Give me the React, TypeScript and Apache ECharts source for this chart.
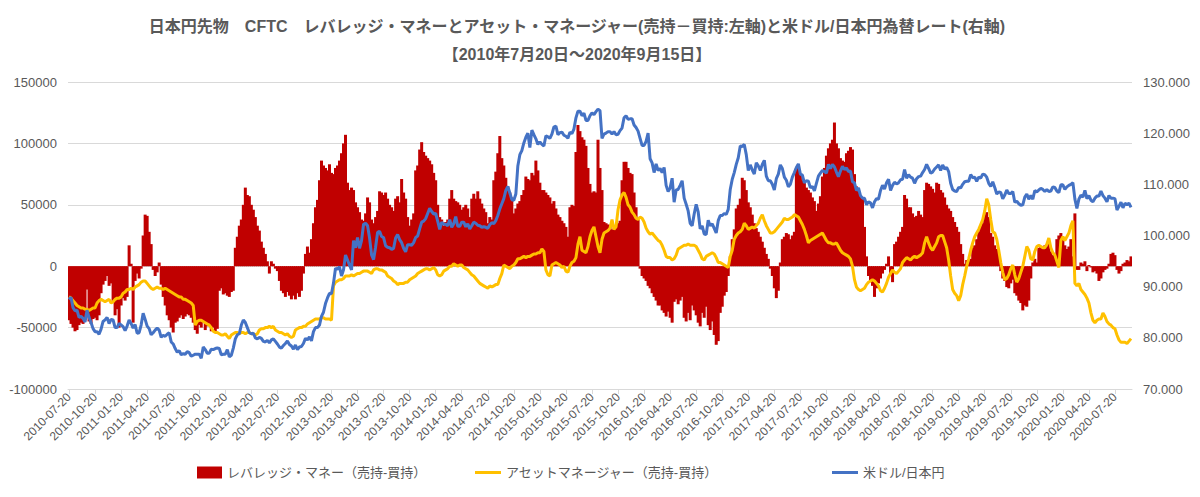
import React, { useEffect, useRef } from "react";
import * as echarts from "echarts";

// Weekly CFTC report dates start (Tuesdays)
const startDate = "2010-07-20";
const weekCount = 531;

const tickLabels = [
  "2010-07-20","2010-10-20","2011-01-20","2011-04-20","2011-07-20","2011-10-20",
  "2012-01-20","2012-04-20","2012-07-20","2012-10-20","2013-01-20","2013-04-20",
  "2013-07-20","2013-10-20","2014-01-20","2014-04-20","2014-07-20","2014-10-20",
  "2015-01-20","2015-04-20","2015-07-20","2015-10-20","2016-01-20","2016-04-20",
  "2016-07-20","2016-10-20","2017-01-20","2017-04-20","2017-07-20","2017-10-20",
  "2018-01-20","2018-04-20","2018-07-20","2018-10-20","2019-01-20","2019-04-20",
  "2019-07-20","2019-10-20","2020-01-20","2020-04-20","2020-07-20"
];

const leftTicks = [-100000, -50000, 0, 50000, 100000, 150000];
const rightTicks = [70, 80, 90, 100, 110, 120, 130];

// レバレッジ・マネー（売持-買持）
const levMoney = [
-44000,-47000,-50000,-53000,-52000,-48000,-46000,-47000,-44000,-19000,
-45000,-47000,-43000,-42000,-44000,-40000,-22000,-15000,-12000,-8000,
-16000,-14000,-30000,-40000,-35000,-50000,-32000,-26000,-28000,-25000,
17000,2000,-46000,-12000,-6000,-10000,-2000,25000,42000,41000,
28000,18000,-3000,-8000,-5000,3000,-15000,-25000,-32000,-40000,
-44000,-50000,-54000,-46000,-45000,-42000,-40000,-43000,-41000,-39000,
-40000,-42000,-46000,-52000,-55000,-48000,-50000,-46000,-52000,-49000,
-47000,-53000,-50000,-54000,-51000,-20000,-18000,-23000,-22000,-24000,
-25000,-21000,-20000,15000,24000,33000,38000,50000,64000,58000,
57000,50000,46000,40000,33000,29000,20000,15000,10000,4000,
-6000,4000,2000,-2000,-4000,-12000,-20000,-22000,-25000,-21000,
-24000,-27000,-24000,-27000,-22000,-25000,-20000,-6000,10000,16000,
11000,22000,35000,48000,54000,70000,86000,82000,80000,78000,
83000,76000,75000,80000,82000,86000,92000,100000,107000,68000,
62000,64000,62000,52000,48000,44000,38000,37000,43000,56000,
52000,38000,35000,40000,45000,61000,60000,58000,60000,55000,
50000,48000,45000,55000,57000,52000,71000,60000,55000,40000,
33000,38000,43000,78000,82000,95000,101000,93000,90000,88000,
86000,83000,76000,70000,50000,40000,38000,33000,36000,38000,
55000,62000,55000,53000,52000,50000,46000,48000,50000,47000,
40000,55000,59000,55000,61000,55000,51000,47000,44000,35000,
40000,38000,70000,77000,92000,106000,88000,82000,72000,65000,
60000,56000,43000,47000,51000,53000,58000,62000,73000,71000,
70000,76000,74000,86000,78000,68000,62000,62000,60000,58000,
56000,51000,53000,47000,42000,40000,37000,35000,32000,24000,
48000,50000,49000,93000,115000,110000,105000,103000,98000,80000,
67000,60000,61000,60000,103000,80000,62000,36000,35000,34000,
33000,30000,31000,33000,35000,37000,70000,85000,85000,80000,
76000,75000,60000,48000,38000,-2000,-8000,-10000,-12000,-16000,
-18000,-22000,-25000,-28000,-32000,-32000,-36000,-38000,-41000,-37000,
-42000,-46000,-29000,-27000,-31000,-28000,-25000,-42000,-45000,-38000,
-44000,-32000,-36000,-40000,-46000,-49000,-38000,-42000,-33000,-48000,
-52000,-45000,-56000,-64000,-61000,-38000,-33000,-24000,-21000,-8000,
8000,22000,30000,47000,50000,55000,72000,70000,62000,52000,
48000,42000,35000,31000,28000,24000,20000,15000,10000,6000,
-2000,-8000,-18000,-26000,-20000,3000,22000,24000,27000,26000,
22000,25000,28000,80000,83000,75000,70000,68000,64000,62000,
60000,56000,53000,45000,51000,57000,73000,80000,90000,96000,
100000,103000,117000,100000,96000,88000,86000,85000,92000,94000,
97000,95000,75000,65000,62000,57000,55000,32000,8000,-8000,
-12000,-16000,-25000,-18000,-14000,-10000,-6000,-3000,2000,8000,
-8000,-13000,18000,20000,24000,28000,32000,58000,55000,48000,
48000,43000,40000,41000,45000,42000,40000,62000,68000,67000,
65000,63000,60000,68000,67000,62000,60000,56000,50000,47000,
45000,40000,36000,32000,28000,18000,10000,2000,5000,4000,
6000,15000,17000,22000,28000,33000,35000,42000,44000,40000,
27000,24000,17000,14000,10000,-4000,-10000,-12000,-17000,-18000,
-14000,-11000,-22000,-24000,-28000,-30000,-36000,-32000,-33000,-28000,
-10000,3000,6000,3000,15000,16000,14000,17000,16000,19000,
12000,9000,8000,22000,25000,27000,24000,17000,14000,16000,
22000,8000,43000,-3000,-3000,3000,2000,4000,-4000,1000,
-1000,-5000,-4000,-6000,-12000,-10000,-5000,-3000,-2000,2000,
10000,11000,9000,-3000,-6000,-4000,2000,3000,5000,4000,
8000
];

// アセットマネージャー（売持-買持）
const assetMgr = [
-25000,-26000,-28000,-30000,-32000,-33000,-34000,-34000,-35000,-35000,
-36000,-35000,-34000,-34000,-30000,-28000,-27000,-28000,-29000,-28000,
-27000,-30000,-29000,-27000,-26000,-26000,-25000,-22000,-21000,-19000,
-19000,-18000,-19000,-17000,-16000,-15000,-13000,-12000,-12000,-14000,
-16000,-18000,-19000,-18000,-17000,-18000,-18000,-19000,-18000,-19000,
-20000,-21000,-22000,-23000,-24000,-25000,-25000,-27000,-27000,-28000,
-29000,-30000,-32000,-48000,-45000,-44000,-44000,-45000,-46000,-47000,
-48000,-50000,-53000,-54000,-54000,-55000,-56000,-56000,-55000,-57000,
-59000,-56000,-55000,-54000,-54000,-55000,-54000,-54000,-55000,-54000,
-54000,-55000,-55000,-56000,-55000,-52000,-51000,-51000,-50000,-50000,
-49000,-50000,-49000,-52000,-53000,-54000,-54000,-55000,-56000,-55000,
-57000,-58000,-57000,-52000,-51000,-50000,-50000,-49000,-49000,-47000,
-46000,-45000,-44000,-43000,-43000,-43000,-42000,-42000,-43000,-43000,
-43000,-44000,-16000,-13000,-12000,-11000,-11000,-10000,-8000,-8000,
-8000,-7000,-8000,-7000,-6000,-6000,-5000,-4000,-4000,-4000,
-5000,-6000,-3000,-2000,-2000,-3000,-3000,-4000,-5000,-8000,
-9000,-10000,-12000,-13000,-15000,-14000,-14000,-14000,-13000,-13000,
-11000,-10000,-9000,-8000,-6000,-5000,-4000,-3000,-2000,-2000,
-3000,-2000,-1000,-3000,-7000,-8000,-7000,-4000,-3000,-2000,
0,0,2000,1000,0,1000,1000,-1000,-2000,-3000,
-5000,-7000,-8000,-10000,-12000,-14000,-15000,-16000,-17000,-18000,
-16000,-17000,-16000,-15000,-15000,-10000,-6000,1000,0,-1000,
-2000,0,1000,3000,6000,6000,7000,8000,7000,8000,
8000,9000,10000,10000,11000,11000,14000,12000,-3000,-7000,
-8000,1000,2000,3000,2000,1000,-1000,0,-4000,-5000,
0,3000,4000,7000,18000,24000,13000,12000,11000,16000,
24000,29000,32000,24000,16000,11000,22000,27000,28000,29000,
31000,38000,30000,32000,46000,54000,58000,60000,56000,50000,
48000,44000,42000,39000,38000,40000,39000,36000,31000,28000,
26000,27000,25000,23000,21000,20000,17000,13000,8000,7000,
7000,5000,6000,9000,14000,15000,16000,17000,17000,18000,
17000,17000,17000,16000,13000,10000,6000,5000,8000,9000,
10000,11000,10000,7000,3000,3000,2000,1000,0,-1000,
8000,13000,22000,25000,27000,28000,30000,35000,33000,30000,
31000,32000,31000,33000,35000,39000,42000,37000,33000,30000,
27000,27000,28000,30000,32000,34000,36000,39000,38000,38000,
39000,40000,42000,41000,40000,37000,34000,30000,25000,19000,
21000,22000,23000,24000,25000,26000,27000,24000,21000,19000,
19000,18000,18000,19000,16000,13000,11000,10000,9000,8000,
6000,0,-11000,-17000,-19000,-20000,-19000,-18000,-15000,-13000,
-12000,-11000,-12000,-14000,-16000,-20000,-21000,-18000,-14000,-9000,
-6000,-3000,-5000,-6000,-4000,-2000,3000,5000,7000,6000,
5000,7000,8000,7000,8000,9000,11000,19000,24000,19000,
15000,13000,16000,19000,24000,25000,25000,20000,15000,5000,
-8000,-19000,-22000,-24000,-28000,-24000,-15000,-8000,0,6000,
13000,19000,24000,27000,30000,34000,38000,45000,55000,50000,
38000,28000,27000,22000,13000,3000,-5000,-11000,-10000,-7000,
-2000,1000,-7000,-13000,-10000,-5000,0,8000,16000,13000,
6000,5000,12000,16000,17000,16000,15000,15000,18000,23000,
15000,11000,9000,4000,-1000,21000,24000,21000,24000,27000,
33000,37000,-14000,-16000,-14000,-19000,-21000,-23000,-26000,-30000,
-38000,-44000,-46000,-44000,-43000,-43000,-38000,-41000,-45000,-47000,
-48000,-50000,-51000,-56000,-60000,-62000,-62000,-62000,-63000,-61000,
-59000
];

// 米ドル/日本円
const usdJpy = [
87.5,87.9,85.9,85.3,85.4,84.0,84.2,83.8,83.1,85.4,
84.0,83.0,81.8,81.2,81.2,80.7,81.7,83.2,83.5,84.0,
82.8,83.6,83.5,82.0,82.0,82.8,82.5,82.2,81.4,82.3,
83.5,82.8,81.9,82.6,80.9,81.0,82.5,84.8,83.6,82.3,
81.8,80.6,81.0,81.5,81.9,81.5,80.1,80.5,80.3,80.7,
81.0,79.2,78.8,77.9,77.2,77.5,76.7,76.9,76.8,77.3,
77.1,76.4,76.6,76.8,76.8,76.8,76.0,78.2,77.7,77.0,
77.0,77.8,77.7,77.9,78.0,77.9,76.7,76.8,76.8,77.7,
76.3,76.6,78.0,79.8,80.6,80.8,82.5,83.5,83.0,82.0,
81.0,80.8,80.9,80.0,79.8,80.1,79.9,79.3,79.2,79.5,
79.0,79.6,79.8,79.3,78.8,78.2,78.0,78.5,78.9,79.4,
78.7,78.4,77.8,78.6,77.7,78.2,78.3,78.9,79.9,79.6,
80.2,79.4,81.2,82.0,82.0,82.5,84.2,85.0,86.7,87.8,
88.7,88.6,90.7,93.6,93.4,93.9,92.1,93.3,96.2,95.2,
94.2,93.3,99.0,97.6,99.6,97.5,99.0,102.2,102.4,101.9,
99.5,96.2,95.3,97.7,100.6,100.8,99.8,99.6,98.0,97.7,
97.6,97.3,97.5,99.5,100.2,99.2,98.6,97.5,96.8,98.2,
98.2,98.1,98.6,99.6,99.9,101.3,102.6,102.8,103.3,104.3,
105.3,104.7,104.2,104.3,102.8,101.2,102.6,102.2,102.2,101.9,
103.1,101.6,102.3,103.7,101.8,101.8,102.6,102.6,101.7,102.3,
101.3,101.9,102.6,102.4,102.0,101.9,101.6,101.7,101.6,101.4,
102.1,102.5,102.3,102.9,103.9,105.2,106.2,107.2,108.8,109.6,
108.3,107.0,106.9,108.1,113.6,115.8,116.6,118.1,119.2,120.0,
117.2,120.6,119.7,118.9,117.8,118.3,117.8,117.5,119.5,119.3,
119.0,119.8,121.2,121.4,119.7,120.1,120.2,119.6,119.4,119.0,
120.2,119.9,120.8,123.0,124.3,124.3,123.4,123.9,122.5,122.5,
123.4,124.0,123.6,124.2,124.7,124.4,119.0,119.8,120.0,120.3,
120.3,119.8,120.3,119.7,119.8,120.5,121.0,123.0,123.4,122.7,
122.8,122.8,121.6,121.1,120.4,119.0,117.6,117.6,118.4,120.0,
115.0,114.2,112.3,114.0,112.7,113.1,112.3,113.3,109.8,108.6,
109.3,111.2,106.5,108.9,109.0,109.8,110.7,107.3,106.1,104.8,
102.4,101.9,104.2,106.1,104.6,101.3,101.9,100.3,100.2,103.0,
101.9,102.3,101.4,100.5,102.9,103.9,103.9,104.3,104.1,105.1,
109.0,111.0,112.3,113.9,115.2,117.5,117.4,117.8,115.8,112.7,
113.8,112.8,112.0,114.2,113.6,112.7,113.9,114.7,111.6,110.7,
110.7,110.0,108.9,111.1,112.0,113.8,113.1,111.4,110.8,109.5,
110.0,111.4,112.3,113.3,114.0,112.0,111.8,110.3,110.7,110.6,
109.3,109.6,108.7,110.2,111.6,112.2,112.7,112.5,112.2,113.9,
113.1,113.9,113.4,112.4,111.5,112.6,113.5,112.9,113.2,112.5,
112.6,110.5,110.3,108.8,109.3,107.8,107.3,107.3,106.0,106.6,
106.4,105.4,106.6,107.2,107.1,108.8,109.8,109.1,110.3,111.0,
108.8,109.8,110.4,110.1,110.3,110.9,111.0,112.9,111.2,111.9,
111.4,111.2,110.2,111.1,111.5,111.6,112.3,112.9,113.9,113.1,
112.2,112.4,113.0,113.4,113.8,112.7,113.8,113.0,113.3,112.5,
110.2,109.0,108.7,108.6,109.4,109.3,110.0,110.5,110.6,110.6,
111.9,111.3,111.4,110.6,111.4,111.2,112.0,111.9,111.4,110.2,
109.6,110.5,109.4,108.1,108.5,108.4,107.2,107.9,108.9,108.2,
108.2,108.6,106.5,106.7,106.2,105.9,106.0,107.5,108.1,107.1,
107.8,107.1,108.8,108.5,108.9,109.2,109.0,108.6,109.0,108.6,
108.7,109.5,109.4,108.7,108.4,109.9,109.9,109.0,109.5,109.8,
110.0,110.3,107.1,105.3,107.1,107.9,107.5,108.8,107.2,107.8,
106.9,106.6,107.3,107.7,107.7,108.7,107.8,107.3,106.6,107.8,
107.3,107.3,107.2,105.0,105.7,106.5,105.4,106.3,106.0,106.3,
105.5
];

const seriesNames = [
  "レバレッジ・マネー（売持-買持）",
  "アセットマネージャー（売持-買持）",
  "米ドル/日本円",
];

const titleLine1 =
  "日本円先物　CFTC　レバレッジ・マネーとアセット・マネージャー(売持－買持:左軸)と米ドル/日本円為替レート(右軸)";
const titleLine2 = "【2010年7月20日～2020年9月15日】";

const DAY = 86400000;
const parseUTC = (s: string) => {
  const [y, m, d] = s.split("-").map(Number);
  return Date.UTC(y, m - 1, d);
};
const pad = (n: number) => (n < 10 ? "0" + n : "" + n);
const startMs = parseUTC(startDate);
const categories: string[] = [];
for (let i = 0; i < weekCount; i++) {
  const dt = new Date(startMs + i * 7 * DAY);
  categories.push(dt.getUTCFullYear() + "-" + pad(dt.getUTCMonth() + 1) + "-" + pad(dt.getUTCDate()));
}
const tickMap = new Map<number, string>();
tickLabels.forEach((t) => {
  tickMap.set(Math.round((parseUTC(t) - startMs) / (7 * DAY)), t);
});

const FONT = "'Liberation Sans', 'Noto Sans CJK JP', sans-serif";
const TXT = "#595959";
const GRID = "#d9d9d9";

export default function App() {
  const ref = useRef<HTMLDivElement>(null);
  useEffect(() => {
    if (!ref.current) return;
    const chart = echarts.init(ref.current, undefined, { renderer: "svg" });
    const legendText = { color: TXT, fontSize: 13, fontFamily: FONT };
    chart.setOption({
      animation: false,
      backgroundColor: "#ffffff",
      textStyle: { fontFamily: FONT },
      title: [
        {
          text: titleLine1,
          left: 572,
          top: 13,
          textAlign: "center",
          textStyle: { fontSize: 16, fontWeight: "bold", color: TXT, fontFamily: FONT },
        },
        {
          text: titleLine2,
          left: 572,
          top: 41,
          textAlign: "center",
          textStyle: { fontSize: 16, fontWeight: "bold", color: TXT, fontFamily: FONT },
        },
      ],
      legend: [
        { data: [{ name: seriesNames[0], icon: "rect" }], left: 192, top: 461, itemWidth: 25, itemHeight: 12, itemGap: 4, textStyle: legendText, selectedMode: false },
        { data: [{ name: seriesNames[1], icon: "rect" }], left: 470, top: 461, itemWidth: 26, itemHeight: 3, textStyle: legendText, selectedMode: false },
        { data: [{ name: seriesNames[2], icon: "rect" }], left: 827, top: 461, itemWidth: 26, itemHeight: 3, textStyle: legendText, selectedMode: false },
      ],
      grid: { left: 68, right: 68, top: 82, bottom: 108, containLabel: false },
      xAxis: {
        type: "category",
        data: categories,
        boundaryGap: true,
        axisLine: { onZero: false, lineStyle: { color: GRID, width: 1 } },
        axisTick: {
          show: true,
          alignWithLabel: true,
          length: 5,
          interval: (idx: number) => tickMap.has(idx),
          lineStyle: { color: GRID },
        },
        axisLabel: {
          interval: (idx: number) => tickMap.has(idx),
          formatter: (_v: string, idx: number) => tickMap.get(idx) || "",
          rotate: 45,
          color: TXT,
          fontSize: 12,
          margin: 6,
          fontFamily: FONT,
        },
        splitLine: { show: false },
      },
      yAxis: [
        {
          type: "value",
          min: leftTicks[0],
          max: leftTicks[leftTicks.length - 1],
          interval: 50000,
          axisLine: { show: false },
          axisTick: { show: false },
          axisLabel: { color: TXT, fontSize: 13, margin: 11, fontFamily: FONT, formatter: (v: number) => String(v) },
          splitLine: { lineStyle: { color: GRID, width: 1 } },
        },
        {
          type: "value",
          position: "right",
          min: rightTicks[0],
          max: rightTicks[rightTicks.length - 1],
          interval: 10,
          axisLine: { show: false },
          axisTick: { show: false },
          axisLabel: { color: TXT, fontSize: 13, margin: 11, fontFamily: FONT, formatter: (v: number) => v.toFixed(3) },
          splitLine: { show: false },
        },
      ],
      series: [
        {
          name: seriesNames[0],
          type: "bar",
          yAxisIndex: 0,
          data: levMoney,
          barWidth: 3,
          itemStyle: { color: "#C00000" },
        },
        {
          name: seriesNames[1],
          type: "line",
          yAxisIndex: 0,
          data: assetMgr,
          symbol: "none",
          showSymbol: false,
          lineStyle: { color: "#FFC000", width: 3 },
          itemStyle: { color: "#FFC000" },
        },
        {
          name: seriesNames[2],
          type: "line",
          yAxisIndex: 1,
          data: usdJpy,
          symbol: "none",
          showSymbol: false,
          lineStyle: { color: "#4472C4", width: 3 },
          itemStyle: { color: "#4472C4" },
        },
      ],
    });
    return () => chart.dispose();
  }, []);
  return (
    <div
      ref={ref}
      style={{ position: "fixed", left: 0, top: 0, width: 1200, height: 497, background: "#fff" }}
    />
  );
}
